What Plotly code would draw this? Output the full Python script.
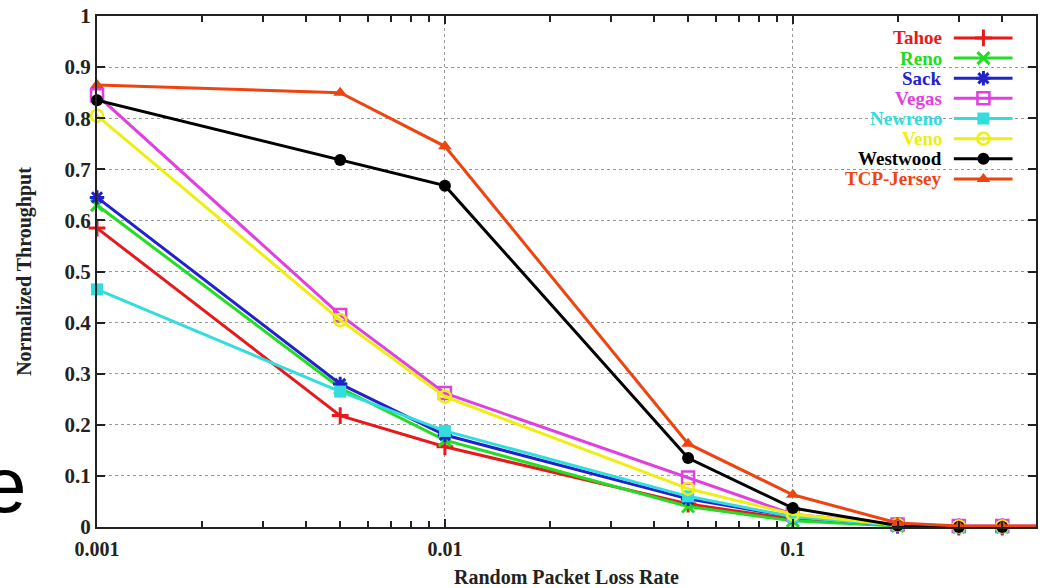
import plotly.graph_objects as go

loss_rate = [0.001, 0.005, 0.01, 0.05, 0.1, 0.2, 0.3, 0.4, 0.5]
tahoe    = [0.585, 0.218, 0.157, 0.045, 0.015, 0.003, 0.0, 0.0, 0.0]
reno     = [0.630, 0.272, 0.170, 0.040, 0.012, 0.002, 0.0, 0.0, 0.0]
sack     = [0.645, 0.280, 0.180, 0.055, 0.020, 0.003, 0.0, 0.0, 0.0]
vegas    = [0.845, 0.415, 0.262, 0.097, 0.025, 0.005, 0.002, 0.002, 0.002]
newreno  = [0.465, 0.265, 0.188, 0.060, 0.020, 0.003, 0.0, 0.0, 0.0]
veno     = [0.805, 0.405, 0.255, 0.075, 0.025, 0.004, 0.001, 0.001, 0.001]
westwood = [0.835, 0.718, 0.668, 0.135, 0.037, 0.003, 0.0, 0.0, 0.0]
jersey   = [0.865, 0.850, 0.745, 0.163, 0.063, 0.008, 0.002, 0.002, 0.002]

names = ["Tahoe", "Reno", "Sack", "Vegas", "Newreno", "Veno", "Westwood", "TCP-Jersey"]
series = [tahoe, reno, sack, vegas, newreno, veno, westwood, jersey]
colors = ["#e8191c", "#22dd22", "#2222cc", "#e040e0", "#33dddd", "#eeee11", "#000000", "#ee4411"]
symbols = ["cross-thin-open", "x-thin-open", "asterisk-open", "square-open",
           "square", "circle-open-dot", "circle", "triangle-up"]
y_ticks = [0, 0.1, 0.2, 0.3, 0.4, 0.5, 0.6, 0.7, 0.8, 0.9, 1]
x_ticks = [0.001, 0.01, 0.1]
x_minor = [0.002, 0.003, 0.004, 0.005, 0.006, 0.007, 0.008, 0.009,
           0.02, 0.03, 0.04, 0.05, 0.06, 0.07, 0.08, 0.09,
           0.2, 0.3, 0.4]

FONT = "Liberation Serif"
fig = go.Figure()

def marker_for(sym, col):
    if sym.endswith("thin-open") or sym == "asterisk-open":
        return dict(symbol=sym, size=12, color=col, line=dict(color=col, width=3))
    if sym.endswith("open") or sym.endswith("open-dot"):
        return dict(symbol=sym, size=12, color=col, line=dict(color=col, width=2.5))
    return dict(symbol=sym, size=12, color=col, line=dict(color=col, width=0))

for nm, ys, col, sym in zip(names, series, colors, symbols):
    fig.add_trace(go.Scatter(x=loss_rate, y=ys, mode="lines+markers", name=nm,
                             line=dict(color=col, width=3),
                             marker=marker_for(sym, col), showlegend=False,
                             cliponaxis=False))

# custom legend (text on the left, sample on the right) on an overlay axis
leg_y0 = 0.957
leg_dy = 0.0394
for i, (nm, col, sym) in enumerate(zip(names, colors, symbols)):
    yy = leg_y0 - i * leg_dy
    fig.add_trace(go.Scatter(x=[0.9125, 0.975], y=[yy, yy], mode="lines",
                             line=dict(color=col, width=3), xaxis="x2", yaxis="y2",
                             showlegend=False, hoverinfo="skip"))
    fig.add_trace(go.Scatter(x=[0.944], y=[yy], mode="markers",
                             marker=marker_for(sym, col), xaxis="x2", yaxis="y2",
                             showlegend=False, hoverinfo="skip"))
    fig.add_annotation(x=0.902, y=yy, xref="x2", yref="y2", text="<b>%s</b>" % nm,
                       showarrow=False, xanchor="right", yanchor="middle",
                       font=dict(family=FONT, size=19, color=col))

axis_font = dict(family=FONT, size=20, color="#222222")
fig.update_layout(
    width=1044, height=588,
    margin=dict(l=97, r=8, t=16, b=61, autoexpand=False),
    paper_bgcolor="white", plot_bgcolor="white",
    xaxis=dict(type="log", range=[-3, -0.30103], tickvals=x_ticks,
               ticktext=["<b>0.001</b>", "<b>0.01</b>", "<b>0.1</b>"],
               ticks="inside", ticklen=8, tickwidth=1.5, tickcolor="#222",
               showline=True, linecolor="#222", linewidth=2, mirror="ticks",
               showgrid=True, gridcolor="#999", griddash="dot", gridwidth=1,
               zeroline=False, tickfont=axis_font, ticklabelstandoff=3,
               automargin=False,
               minor=dict(tickmode="array", tickvals=x_minor, ticks="inside",
                          ticklen=6, tickcolor="#222", tickwidth=1.5, showgrid=False),
               title=dict(text="<b>Random Packet Loss Rate</b>",
                          font=dict(family=FONT, size=20, color="#222"), standoff=11)),
    yaxis=dict(range=[0, 1], tickvals=y_ticks,
               ticktext=["<b>%g</b>" % v for v in y_ticks],
               ticks="inside", ticklen=8, tickwidth=1.5, tickcolor="#222",
               showline=True, linecolor="#222", linewidth=2, mirror="ticks",
               showgrid=True, gridcolor="#999", griddash="dot", gridwidth=1,
               zeroline=False, tickfont=dict(family=FONT, size=21, color="#222222"),
               automargin=False,
               title=dict(text="<b>Normalized Throughput</b>",
                          font=dict(family=FONT, size=20, color="#222"), standoff=28)),
    xaxis2=dict(range=[0, 1], overlaying="x", visible=False, fixedrange=True),
    yaxis2=dict(range=[0, 1], overlaying="y", visible=False, fixedrange=True),
)

fig.add_annotation(x=-0.099, y=0.083, xref="paper", yref="paper", text="e",
                   showarrow=False, xanchor="center", yanchor="middle",
                   font=dict(family="Liberation Sans", size=78, color="black"))

fig.write_html("out.html", post_script="document.body.style.margin='0';",
               config={"displayModeBar": False})
